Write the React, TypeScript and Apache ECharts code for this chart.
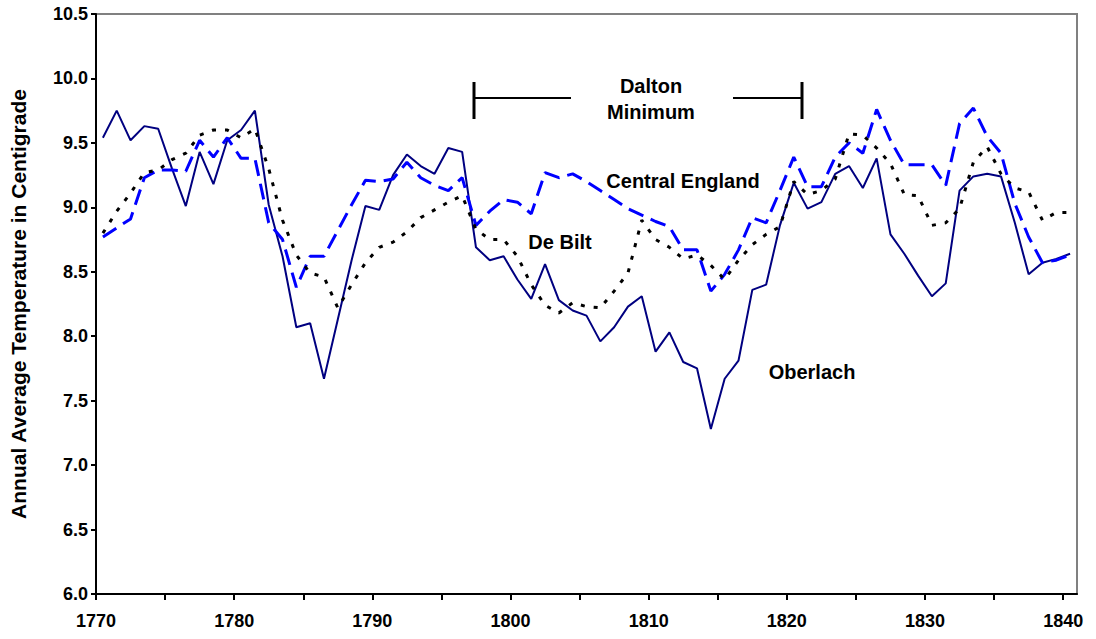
import React, { useEffect, useRef } from "react";
import * as echarts from "echarts";

const START_YEAR = 1770;

const oberlach = [
  9.54, 9.75, 9.52, 9.63, 9.61, 9.30, 9.01, 9.43, 9.18, 9.52,
  9.60, 9.75, 9.02, 8.62, 8.07, 8.10, 7.67, 8.13, 8.59, 9.01,
  8.98, 9.25, 9.41, 9.32, 9.26, 9.46, 9.43, 8.69, 8.59, 8.62,
  8.44, 8.29, 8.56, 8.28, 8.20, 8.16, 7.96, 8.07, 8.23, 8.31,
  7.88, 8.03, 7.80, 7.75, 7.28, 7.67, 7.81, 8.36, 8.40, 8.86,
  9.19, 8.99, 9.04, 9.26, 9.32, 9.15, 9.38, 8.79, 8.64, 8.47,
  8.31, 8.41, 9.13, 9.24, 9.26, 9.24, 8.88, 8.48, 8.57, 8.60,
  8.64,
];

const centralEngland = [
  8.77, 8.84, 8.91, 9.23, 9.29, 9.29, 9.28, 9.52, 9.39, 9.54,
  9.38, 9.38, 8.88, 8.75, 8.38, 8.62, 8.62, 8.82, 9.02, 9.21,
  9.20, 9.22, 9.35, 9.23, 9.17, 9.13, 9.23, 8.86, 8.97, 9.06,
  9.04, 8.95, 9.27, 9.23, 9.26, 9.20, 9.13, 9.06, 8.99, 8.94,
  8.89, 8.85, 8.67, 8.67, 8.35, 8.48, 8.67, 8.92, 8.88, 9.13,
  9.39, 9.16, 9.16, 9.39, 9.50, 9.42, 9.76, 9.52, 9.33, 9.33,
  9.33, 9.17, 9.65, 9.77, 9.55, 9.42, 9.03, 8.77, 8.57, 8.59,
  8.63,
];

const deBilt = [
  8.80, 8.97, 9.11, 9.27, 9.29, 9.37, 9.42, 9.56, 9.60, 9.60,
  9.54, 9.61, 9.30, 8.90, 8.63, 8.49, 8.46, 8.22, 8.40, 8.57,
  8.69, 8.73, 8.81, 8.92, 8.98, 9.04, 9.09, 8.83, 8.75, 8.75,
  8.62, 8.40, 8.24, 8.18, 8.26, 8.23, 8.22, 8.35, 8.49, 8.90,
  8.75, 8.69, 8.60, 8.63, 8.55, 8.44, 8.59, 8.71, 8.79, 8.85,
  9.20, 9.10, 9.13, 9.22, 9.57, 9.56, 9.46, 9.34, 9.10, 9.09,
  8.86, 8.88, 8.99, 9.35, 9.47, 9.26, 9.15, 9.12, 8.90, 8.96,
  8.96,
];

const xTickYears = [1770, 1775, 1780, 1785, 1790, 1795, 1800, 1805, 1810, 1815, 1820, 1825, 1830, 1835, 1840];
const xLabelYears = [1770, 1780, 1790, 1800, 1810, 1820, 1830, 1840];

const FONT = "'Liberation Sans', Arial, Helvetica, sans-serif";

function toPoints(vals: number[]) {
  return vals.map((v, i) => [START_YEAR + i + 0.5, v]);
}

export default function App() {
  const ref = useRef<HTMLDivElement>(null);
  useEffect(() => {
    if (!ref.current) return;
    const chart = echarts.init(ref.current, undefined, { renderer: "svg" });
    const textStyle = (t: string, x: number, y: number) => ({
      type: "text",
      x,
      y,
      style: {
        text: t,
        fontFamily: FONT,
        fontSize: 20,
        fontWeight: "bold",
        fill: "#000",
        align: "center",
        verticalAlign: "middle",
      },
    });
    chart.setOption({
      animation: false,
      backgroundColor: "#fff",
      grid: {
        left: 96,
        right: 19,
        top: 14,
        bottom: 45,
        show: true,
        borderColor: "#808080",
        borderWidth: 2,
        backgroundColor: "transparent",
      },
      xAxis: {
        type: "value",
        min: 1770,
        max: 1841,
        interval: 5,
        axisLine: { show: true, lineStyle: { color: "#000", width: 2 } },
        axisTick: {
          show: true,
          customValues: xTickYears,
          length: 6,
          lineStyle: { color: "#000", width: 2 },
        },
        axisLabel: {
          customValues: xLabelYears,
          formatter: (v: number) => String(v),
          fontFamily: FONT,
          fontSize: 18,
          fontWeight: "bold",
          color: "#000",
          margin: 18,
        },
        splitLine: { show: false },
      },
      yAxis: {
        type: "value",
        min: 6,
        max: 10.5,
        interval: 0.5,
        name: "Annual Average Temperature in Centigrade",
        nameLocation: "middle",
        nameGap: 67,
        nameTextStyle: {
          fontFamily: FONT,
          fontSize: 21,
          fontWeight: "bold",
          color: "#000",
        },
        axisLine: { show: true, lineStyle: { color: "#000", width: 2 } },
        axisTick: { show: true, length: 5, lineStyle: { color: "#000", width: 2 } },
        axisLabel: {
          formatter: (v: number) => v.toFixed(1),
          fontFamily: FONT,
          fontSize: 18,
          fontWeight: "bold",
          color: "#000",
          margin: 8,
        },
        splitLine: { show: false },
      },
      series: [
        {
          name: "Oberlach",
          type: "line",
          data: toPoints(oberlach),
          showSymbol: false,
          symbol: "none",
          lineStyle: { color: "#000080", width: 2 },
          z: 3,
        },
        {
          name: "Central England",
          type: "line",
          data: toPoints(centralEngland),
          showSymbol: false,
          symbol: "none",
          lineStyle: { color: "#0000FF", width: 3, type: [16, 8] },
          z: 4,
        },
        {
          name: "De Bilt",
          type: "line",
          data: toPoints(deBilt),
          showSymbol: false,
          symbol: "none",
          lineStyle: { color: "#000", width: 3, type: [4, 9] },
          z: 5,
        },
      ],
      graphic: [
        { type: "line", shape: { x1: 474, y1: 82, x2: 474, y2: 119 }, style: { stroke: "#000", lineWidth: 3 } },
        { type: "line", shape: { x1: 474, y1: 98, x2: 571, y2: 98 }, style: { stroke: "#000", lineWidth: 2 } },
        { type: "line", shape: { x1: 733, y1: 98, x2: 802, y2: 98 }, style: { stroke: "#000", lineWidth: 2 } },
        { type: "line", shape: { x1: 802, y1: 82, x2: 802, y2: 119 }, style: { stroke: "#000", lineWidth: 3 } },
        textStyle("Dalton", 651, 86),
        textStyle("Minimum", 651, 112),
        textStyle("Central England", 683, 181),
        textStyle("De Bilt", 560, 242),
        textStyle("Oberlach", 812, 372),
      ],
    });
    return () => chart.dispose();
  }, []);
  return (
    <div
      ref={ref}
      style={{ position: "fixed", left: 0, top: 0, width: 1096, height: 639 }}
    />
  );
}
